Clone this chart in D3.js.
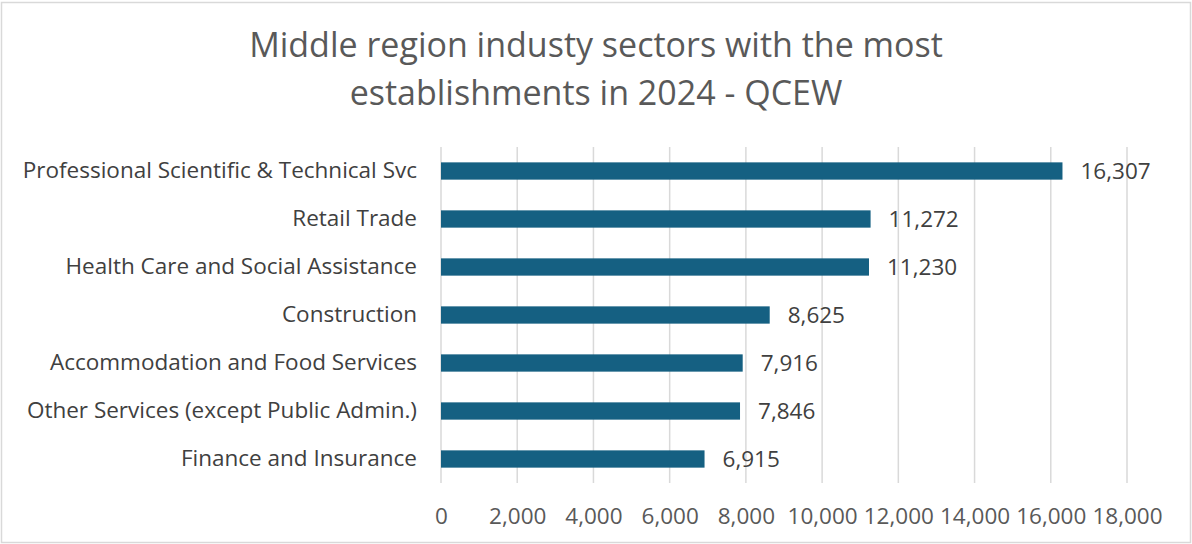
<!DOCTYPE html>
<html>
<head>
<meta charset="utf-8">
<script src="https://cdn.jsdelivr.net/npm/d3@7"></script>
<style>
  html, body { margin: 0; padding: 0; background: #fff; }
  svg { display: block; }
  text { font-family: "Open Sans", "Noto Sans", sans-serif; }
</style>
</head>
<body>
<svg id="chart" width="1192" height="544"></svg>
<script>
const sectors = [
  "Professional Scientific & Technical Svc",
  "Retail Trade",
  "Health Care and Social Assistance",
  "Construction",
  "Accommodation and Food Services",
  "Other Services (except Public Admin.)",
  "Finance and Insurance"
];
const establishments = [16307, 11272, 11230, 8625, 7916, 7846, 6915];
const tickValues = [0, 2000, 4000, 6000, 8000, 10000, 12000, 14000, 16000, 18000];
const titleLines = ["Middle region industy sectors with the most", "establishments in 2024 - QCEW"];

const svg = d3.select("#chart");
const W = 1192, H = 544;
const labelSize = 22.5;

// outer chart frame
svg.append("rect")
  .attr("x", 1.5).attr("y", 2.5)
  .attr("width", W - 3).attr("height", H - 4)
  .attr("fill", "#fff").attr("stroke", "#d9d9d9").attr("stroke-width", 1.5);

const x = d3.scaleLinear().domain([0, 18000]).range([441, 1127]);
const y = d3.scaleBand().domain(sectors).range([147, 483]).paddingInner(0.64).paddingOuter(0.32);

// vertical gridlines
svg.append("g")
  .selectAll("line")
  .data(tickValues)
  .join("line")
  .attr("x1", d => x(d)).attr("x2", d => x(d))
  .attr("y1", 147).attr("y2", 483)
  .attr("stroke", "#d9d9d9").attr("stroke-width", 1.5);

// x axis labels
const xAxis = d3.axisBottom(x).tickValues(tickValues).tickSize(0).tickPadding(0)
  .tickFormat(d3.format(","));
const gx = svg.append("g").attr("transform", "translate(0,524)").call(xAxis);
gx.select(".domain").remove();
gx.selectAll("text")
  .attr("fill", "#595959").attr("font-size", labelSize)
  .style("font-family", '"Open Sans", "Noto Sans", sans-serif')
  .attr("dy", "0");

// category labels
const yAxis = d3.axisLeft(y).tickSize(0).tickPadding(24);
const gy = svg.append("g").attr("transform", "translate(441,0)").call(yAxis);
gy.select(".domain").remove();
gy.selectAll("text")
  .attr("fill", "#404040").attr("font-size", labelSize)
  .style("font-family", '"Open Sans", "Noto Sans", sans-serif');

// bars
svg.append("g")
  .selectAll("rect")
  .data(sectors)
  .join("rect")
  .attr("x", x(0))
  .attr("y", d => y(d))
  .attr("width", (d, i) => x(establishments[i]) - x(0))
  .attr("height", y.bandwidth())
  .attr("fill", "#156082");

// value labels
svg.append("g")
  .selectAll("text")
  .data(sectors)
  .join("text")
  .attr("x", (d, i) => x(establishments[i]) + 18)
  .attr("y", d => y(d) + y.bandwidth() / 2)
  .attr("dy", "0.35em")
  .attr("fill", "#404040").attr("font-size", labelSize)
  .text((d, i) => d3.format(",")(establishments[i]));

// title
svg.append("g")
  .selectAll("text")
  .data(titleLines)
  .join("text")
  .attr("x", 596)
  .attr("y", (d, i) => 57 + i * 48)
  .attr("text-anchor", "middle")
  .attr("fill", "#595959").attr("font-size", 34)
  .text(d => d);
</script>
</body>
</html>
